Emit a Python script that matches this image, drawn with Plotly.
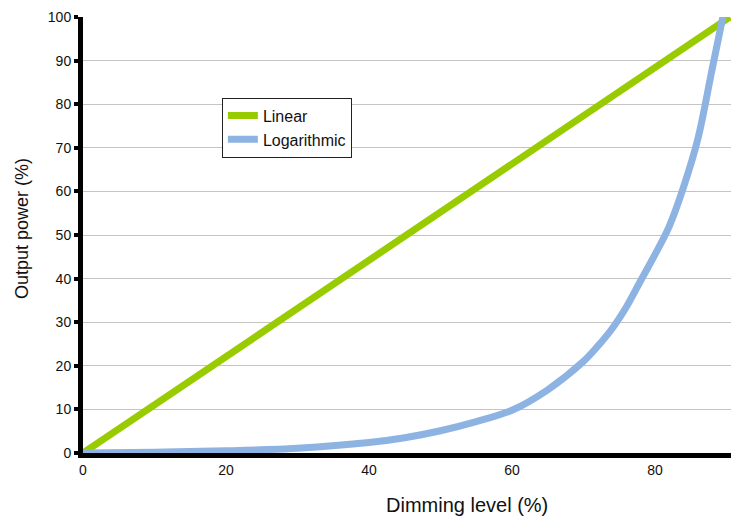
import plotly.graph_objects as go

# Data
linear_x = [0, 10, 20, 30, 40, 50, 60, 70, 80, 90.5]
linear_y = [0, 11.0, 22.1, 33.1, 44.2, 55.2, 66.3, 77.3, 88.4, 100]

log_x = [0, 10, 20, 30, 40, 45, 50, 55, 60, 65, 70, 72, 74, 76, 78, 80, 82, 84, 86, 88, 89.5]
log_y = [0, 0.2, 0.5, 1.1, 2.4, 3.5, 5.1, 7.2, 9.8, 14.5, 21.0, 24.5, 28.5, 33.5, 39.5, 45.5, 52, 61, 72, 88, 100]

x_ticks = [0, 20, 40, 60, 80]
y_ticks = [0, 10, 20, 30, 40, 50, 60, 70, 80, 90, 100]

x_title = "Dimming level (%)"
y_title = "Output power (%)"

GREEN = "#99cc00"
BLUE = "#8db3e2"
FONT = "Liberation Sans, Arial, sans-serif"

fig = go.Figure()
fig.add_trace(go.Scatter(x=linear_x, y=linear_y, mode="lines", name="Linear",
                         legendgroup="a",
                         line=dict(color=GREEN, width=7)))
fig.add_trace(go.Scatter(x=log_x, y=log_y, mode="lines", name="Logarithmic",
                         legendgroup="b",
                         line=dict(color=BLUE, width=7, shape="spline", smoothing=1)))

fig.update_layout(
    width=739, height=520,
    margin=dict(l=75, r=12, t=9, b=75),
    paper_bgcolor="white", plot_bgcolor="white",
    font=dict(family=FONT, color="#111111", size=14),
    legend=dict(x=0.213, y=0.815, xanchor="left", yanchor="top",
                bordercolor="#222222", borderwidth=1, bgcolor="white",
                font=dict(size=16), tracegroupgap=0),
    showlegend=True,
    annotations=[
        dict(text=x_title, xref="paper", yref="paper", x=0.589, y=-0.119,
             xanchor="center", yanchor="middle", showarrow=False,
             font=dict(size=20, family=FONT, color="#111111")),
        dict(text=y_title, xref="paper", yref="paper", x=-0.0936, y=0.516,
             xanchor="center", yanchor="middle", showarrow=False, textangle=-90,
             font=dict(size=18, family=FONT, color="#111111")),
    ],
)
fig.update_xaxes(
    range=[0, 91.2], tickvals=x_ticks, ticks="", showgrid=False,
    showline=True, linecolor="black", linewidth=5, layer="below traces",
    zeroline=False, automargin=False,
)
fig.update_yaxes(
    range=[0, 100], tickvals=y_ticks, ticks="outside", ticklen=4, tickwidth=4,
    tickcolor="black", showgrid=True, gridcolor="#c4c4c4", gridwidth=1,
    showline=True, linecolor="black", linewidth=5, layer="below traces",
    zeroline=False, automargin=False,
)

fig.write_html("out.html")
